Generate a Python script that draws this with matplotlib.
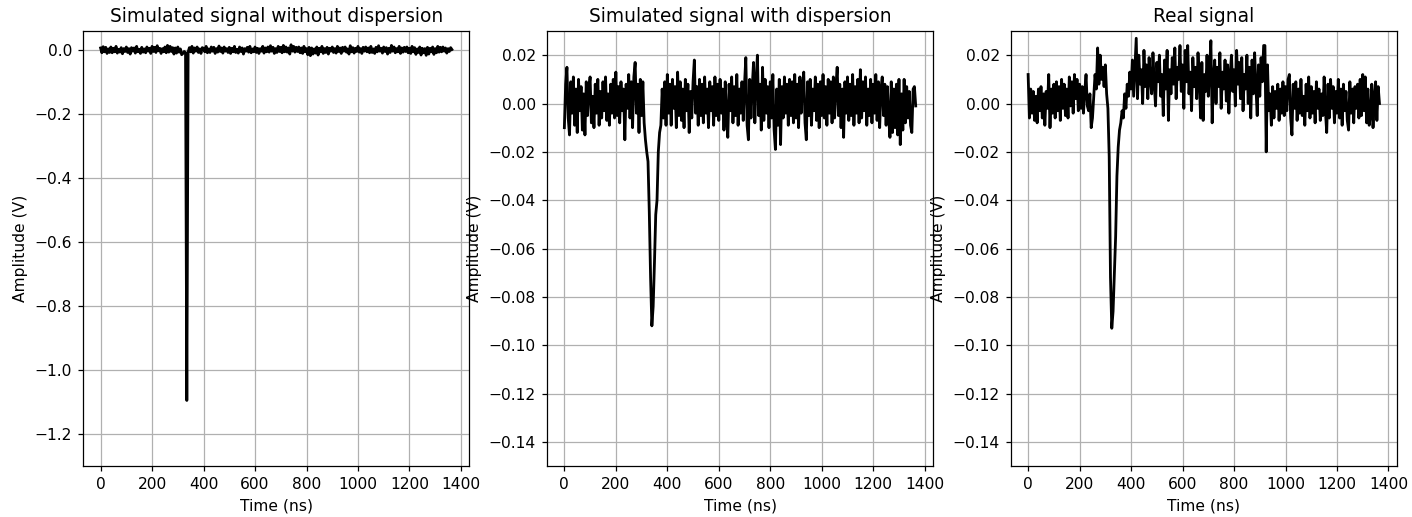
import numpy as np
import matplotlib
matplotlib.use("Agg")
import matplotlib.pyplot as plt

# time axis (ns), 5 ns sampling
t_ns = np.arange(0, 1366, 5)

# signals, in mV (one row = 100 ns)
sig_nodisp_mv = [
    7, -8, 11, -5, 9, -10, 4, -7, 10, -8, 6, -5, 12, -9, 3, -6, 8, -11, 5, -4,
    10, -7, 5, -12, 8, -3, 7, -9, 12, -5, 3, -10, 9, -6, 4, -8, 10, -3, 6, -10,
    12, -4, 9, -7, 14, -2, 6, -10, 5, -5, 10, -8, 15, -6, 12, -4, 8, -12, 7, -9,
    10, -6, 4, -14, -10, -4, -8, -1095, -6, 8, -5, 12, -9, 7, -3, 10, -7, 4, -10, 8,
    6, -5, 12, -8, 4, -7, 10, -3, 9, -10, 5, -6, 13, -4, 7, -9, 10, -3, 5, -7,
    9, -10, 6, -5, 12, -7, 3, -9, 10, -4, 7, -12, 5, -3, 9, -6, 12, -8, 4, -5,
    10, -7, 6, -10, 5, -3, 12, -9, 7, -5, 10, -6, 14, -3, 9, -10, 5, -7, 12, -4,
    9, -8, 15, -5, 10, -6, 7, -12, 17, -3, 12, -6, 9, -4, 10, -8, 7, -10, 12, -5,
    5, -14, 9, -17, 7, -12, 4, -9, 10, -15, 6, -5, 12, -10, 5, -7, 9, -12, 6, -3,
    10, -7, 5, -9, 12, -4, 7, -10, 9, -3, 10, -6, 4, -12, 14, -5, 8, -9, 6, -4,
    12, -6, 5, -10, 9, -3, 10, -5, 7, -8, 12, -7, 4, -10, 9, -5, 14, -3, 6, -9,
    10, -4, 8, -12, 6, -7, 15, -3, 10, -8, 5, -5, 12, -10, 7, -6, 9, -4, 10, -8,
    6, -10, 12, -5, 8, -13, 4, -7, 10, -15, 6, -8, 5, -16, 9, -12, 6, -5, 10, -13,
    5, -8, 12, -6, 9, -5, 10, -3, 7, -9, 5, -4, 8, 2,
]

sig_disp_mv = [
    -10, 8, 15, -6, -13, 9, -4, 11, -9, 6, -12, 10, -3, 7, -11, 4, -13, 9, -5, 6,
    11, -8, 3, -10, 8, -4, 10, -9, 5, -6, 9, -3, 11, -7, 4, -9, 8, -4, 10, -6,
    13, -5, 7, -8, 9, -3, 6, -15, 8, -2, 12, -6, 9, -10, 11, 17, -4, 8, -12, 10,
    -5, 9, -8, -15, -20, -24, -45, -72, -92, -84, -66, -46, -40, -20, -12, -9, 6, -6, 9, -9,
    12, -4, 8, -9, 10, -2, 7, -10, 13, -5, 9, -7, 6, -10, 10, -3, 8, -12, 5, -6,
    9, 18, -4, 7, -9, 10, -5, 8, -8, 11, -4, 6, -10, 9, -3, 7, -9, 11, -5, 8,
    -7, 10, -4, 6, -11, 9, -6, -14, 8, -3, 11, -8, 7, -5, 12, -9, 6, -4, 9, -7,
    8, 19, -9, -15, 10, -6, 7, 17, -8, 9, 20, -5, 8, -11, 15, -7, 10, -4, 7, -10,
    9, -6, 12, -11, -19, 6, -9, 10, -17, 7, -6, 11, -4, 8, -9, 10, -5, 9, -8, 12,
    -6, 8, -10, 11, -4, 7, 13, -8, -15, 9, -5, 10, -9, 6, -3, 11, -7, 8, -10, 9,
    -5, 12, -6, 7, -9, 10, -4, 9, -8, 11, -6, 7, 15, -5, 8, -10, 6, -14, 9, -4,
    11, -7, 8, -5, 12, -9, 7, -4, 10, -8, 14, -6, 9, -3, 11, -9, 6, -5, 10, -8,
    8, -4, 12, -7, 9, -10, 6, 11, -5, 8, -9, 7, -6, -14, 9, -12, 6, -10, 8, -13,
    10, -17, 4, -11, 10, -8, 7, -6, 5, -9, -12, 6, 7, -1,
]

sig_real_mv = [
    12, -6, 6, -4, 5, -7, 3, -8, 6, -3, 7, -6, 4, -9, 5, -2, 12, -10, 6, -4,
    8, -6, 9, -3, 7, -7, 10, -2, 8, -5, 6, -6, 11, -1, 9, -4, 12, 2, 10, -3,
    8, -2, 7, -4, 5, 12, -1, -3, 4, -10, -6, 3, 12, 6, 23, 8, 20, 10, 15, 7,
    16, 4, -2, -22, -72, -93, -86, -70, -55, -30, -18, -11, -8, -3, -6, 4, -2, 8, 3, 13,
    6, 18, 3, 15, 27, 2, 20, 8, 14, 0, 22, 7, 16, 2, 19, 10, 4, 21, 8, -1,
    17, 9, 20, 3, 12, -5, 18, 6, 22, -7, 14, 4, 19, 8, 23, 2, 15, 10, 24, 5,
    16, -2, 22, 9, 24, 4, 13, -3, 19, 7, 15, 2, 21, 10, -6, 17, -7, 12, 5, 20,
    3, 14, 26, -8, 11, 18, 0, 15, 7, 21, -2, 13, 6, 18, 1, 16, -4, 12, 20, 5,
    14, -1, 22, 8, 17, 2, 19, -3, 12, 6, 20, 0, 15, -6, 18, 4, 21, 7, -5, 16,
    3, 19, 9, 24, 24, -20, 16, -3, 4, -9, 7, -6, 5, -2, 8, -7, 6, -4, 9, -5,
    7, -3, 10, 12, -6, -13, 8, -2, 9, -7, 6, -4, 10, -5, 3, -9, 8, -3, 11, -6,
    7, -4, 5, -8, 9, -2, 6, -7, 4, -5, 11, -3, -12, 8, -6, 10, -2, 7, -8, 5,
    -4, 10, -6, 6, -9, 8, -3, 5, -7, -11, 9, -4, 6, -8, 7, -2, 8, -6, 10, -5,
    12, -3, 11, -8, 6, -9, -5, 8, -10, 3, 9, -7, 7, 0,
]

titles = ["Simulated signal without dispersion",
          "Simulated signal with dispersion",
          "Real signal"]
signals = [sig_nodisp_mv, sig_disp_mv, sig_real_mv]
ylims = [(-1.3, 0.06), (-0.15, 0.03), (-0.15, 0.03)]

fig, axs = plt.subplots(1, 3, figsize=(1412 / 112, 517 / 112), dpi=112)
plt.subplots_adjust(left=0.0588, right=0.9894, bottom=0.0986, top=0.940, wspace=0.2)

for ax, s, title, yl in zip(axs, signals, titles, ylims):
    ax.plot(t_ns, np.array(s) / 1000, c='k', lw=1.8)
    ax.set_title(title, fontsize=12)
    ax.set_xlabel("Time (ns)")
    ax.set_ylabel("Amplitude (V)")
    ax.set_ylim(*yl)
    ax.set_xticks(np.arange(0, 1401, 200))
    ax.grid(True)

plt.savefig("out.png")
